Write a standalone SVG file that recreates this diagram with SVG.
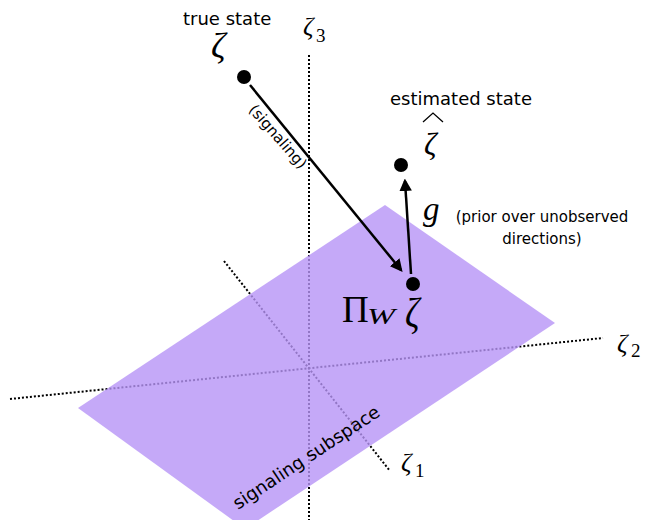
<svg xmlns="http://www.w3.org/2000/svg" width="655" height="520" viewBox="0 0 655 520">
<defs>
<style>
.ax{stroke:#000;stroke-width:2;stroke-dasharray:2 2;fill:none}
.lbl{font-family:"DejaVu Sans","Liberation Sans",sans-serif;font-size:18px;fill:#000}
.sm{font-family:"DejaVu Sans","Liberation Sans",sans-serif;font-size:15px;fill:#000}
.m{font-family:"Liberation Serif","DejaVu Serif",serif;font-style:italic;fill:#000}
.mu{font-family:"Liberation Serif","DejaVu Serif",serif;fill:#000}
.arr{stroke:#000;stroke-width:2.5;fill:none;marker-end:url(#ah)}
</style>
<marker id="ah" viewBox="0 0 10 10" refX="8" refY="5" markerWidth="5" markerHeight="5" orient="auto" markerUnits="strokeWidth">
<path d="M0,0 L10,5 L0,10 z" fill="#000"/>
</marker>
</defs>
<rect width="655" height="520" fill="#fff"/>
<g id="axes">
<line class="ax" x1="309" y1="55" x2="309" y2="520"/>
<line class="ax" x1="10" y1="399" x2="603" y2="338"/>
<line class="ax" x1="224" y1="261" x2="390" y2="471"/>
</g>
<g id="plane">
<polygon points="78,408 385,205 555,323 245,529" fill="#b794f6" fill-opacity="0.8"/>
<text class="lbl" transform="translate(238,510) rotate(-33.5)">signaling subspace</text>
</g>
<g id="axis-labels">
<text class="m" x="303" y="35" font-size="26">ζ</text>
<text class="mu" x="316" y="42" font-size="19">3</text>
<text class="m" x="617" y="352" font-size="26">ζ</text>
<text class="mu" x="631" y="357" font-size="19">2</text>
<text class="m" x="401" y="471" font-size="26">ζ</text>
<text class="mu" x="415" y="477" font-size="19">1</text>
</g>
<g id="connectors">
<line class="arr" x1="250" y1="85" x2="401" y2="270"/>
<line class="arr" x1="411" y1="274" x2="405" y2="181"/>
<text class="sm" transform="translate(248,110) rotate(49)">(signaling)</text>
</g>
<g id="true-state">
<circle cx="244" cy="77" r="7" fill="#000"/>
<text class="lbl" x="183" y="25">true state</text>
<text class="m" x="211" y="58" font-size="36">ζ</text>
</g>
<g id="estimated-state">
<circle cx="401" cy="165" r="7" fill="#000"/>
<text class="lbl" x="390" y="105">estimated state</text>
<text class="m" x="424" y="155" font-size="31">ζ</text>
<path d="M423,122 L433,113 L443,122" stroke="#000" stroke-width="1.3" fill="none"/>
<text class="m" x="423" y="220" font-size="33">g</text>
<text class="sm" x="542" y="222" text-anchor="middle">(prior over unobserved</text>
<text class="sm" x="542" y="244" text-anchor="middle">directions)</text>
</g>
<g id="projection">
<circle cx="413" cy="284" r="7" fill="#000"/>
<text class="mu" x="342" y="322" font-size="37">Π</text>
<text class="m" font-size="24" transform="translate(367,324) scale(1.4,1)">W</text>
<text class="m" font-size="36" transform="translate(405,327) scale(1,1.15)">ζ</text>
</g>
</svg>
